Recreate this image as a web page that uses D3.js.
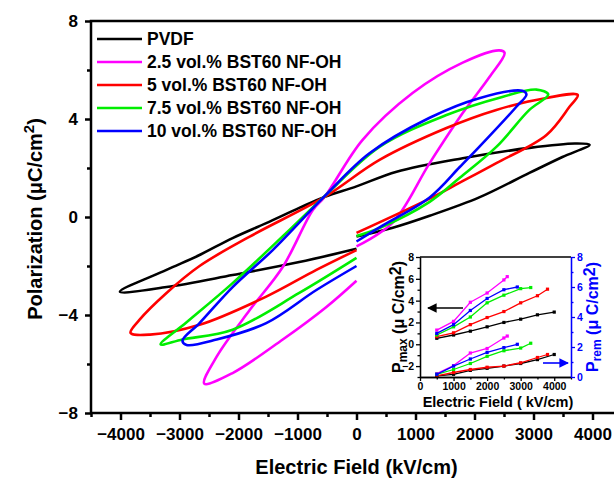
<!DOCTYPE html>
<html>
<head>
<meta charset="utf-8">
<script src="https://cdn.jsdelivr.net/npm/d3@7"></script>
<style>
    body { margin: 0; background: #fff; }
    svg { font-family: Arial, "Liberation Sans", sans-serif; font-weight: bold; }
</style>
</head>
<body>
<div id="chart"></div>
<script>
// hysteresis loops, [E (kV/cm), P (uC/cm2)]
const loopPVDF = [[0,-0.8],[600,-0.45],[1240,0.05],[2080,0.8],[2930,1.8],[3490,2.45],[3950,2.95],[3700,3.0],[2930,2.82],[1800,2.4],[680,1.85],[0,1.25],[-540,0.82],[-970,0.37],[-1530,-0.25],[-2100,-0.86],[-2660,-1.55],[-3220,-2.16],[-4010,-3.05],[-3220,-2.86],[-2100,-2.37],[-970,-1.84],[0,-1.3]];
const loop25 = [[0,-1.2],[610,-0.24],[1240,2.2],[1800,4.24],[2250,5.7],[2510,6.7],[2420,6.8],[1800,6.3],[950,5.06],[100,3.14],[-540,0.82],[-740,0.29],[-1250,-2.04],[-1810,-3.8],[-2370,-5.7],[-2580,-6.8],[-2100,-6.37],[-1250,-5.0],[-510,-3.67],[0,-2.6]];
const loop5 = [[0,-0.65],[1240,0.75],[1750,1.4],[2370,2.2],[3220,3.35],[3610,4.5],[3750,4.98],[3220,4.86],[2370,4.37],[1525,3.63],[390,2.33],[-540,0.82],[-1810,-0.8],[-2660,-2.0],[-3220,-3.1],[-3680,-4.2],[-3830,-4.73],[-3500,-4.8],[-2660,-4.4],[-1530,-3.25],[-680,-2.16],[0,-1.35]];
const loop75 = [[0,-0.78],[390,-0.45],[1240,0.62],[1750,1.6],[2370,2.86],[2930,4.37],[3250,5.0],[3050,5.2],[2470,4.9],[1525,4.16],[390,2.86],[-540,0.85],[-1190,-0.65],[-2100,-2.7],[-2880,-4.3],[-3320,-5.2],[-2950,-5.0],[-2100,-4.6],[-970,-3.1],[0,-1.67]];
const loop10 = [[0,-1.0],[440,-0.35],[1240,0.8],[1750,2.04],[2080,2.86],[2710,4.5],[2880,5.0],[2810,5.15],[2080,4.85],[1240,4.05],[220,2.6],[-540,0.85],[-1420,-1.35],[-2100,-2.86],[-2660,-4.33],[-2950,-5.05],[-2880,-5.22],[-2370,-5.0],[-1530,-4.33],[-680,-2.98],[0,-2.0]];

const seriesNames = ["PVDF", "2.5 vol.% BST60 NF-OH", "5 vol.% BST60 NF-OH", "7.5 vol.% BST60 NF-OH", "10 vol.% BST60 NF-OH"];
const seriesColors = ["#000000", "#ff00ff", "#ff0000", "#00ee00", "#0000ff"];
const loops = [loopPVDF, loop25, loop5, loop75, loop10];

const xTicks = [-4000, -3000, -2000, -1000, 0, 1000, 2000, 3000, 4000];
const yTicks = [-8, -4, 0, 4, 8];

// inset: Pmax (left axis) and Prem (right axis) vs field
const fieldPVDF = [500,1000,1500,2000,2500,3000,3500,4000];
const pmaxPVDF = [0.55,0.85,1.2,1.6,2.0,2.3,2.7,2.95];
const premPVDF = [0.07,0.18,0.44,0.58,0.73,0.9,1.16,1.5];
const field25 = [500,1000,1500,2000,2500,2600];
const pmax25 = [1.3,2.1,3.85,4.7,5.9,6.2];
const prem25 = [0.22,0.76,1.6,1.9,2.6,2.73];
const field5 = [500,1000,1500,2000,2500,3000,3500,3800];
const pmax5 = [0.7,1.05,1.8,2.45,3.0,3.8,4.45,5.05];
const prem5 = [0.07,0.3,0.5,0.65,0.73,0.95,1.3,1.5];
const field75 = [500,1000,1500,2000,2500,3000,3300];
const pmax75 = [0.85,1.6,2.5,3.8,4.5,5.1,5.2];
const prem75 = [0.18,0.5,0.9,1.38,1.75,1.93,2.25];
const field10 = [500,1000,1500,2000,2500,2900];
const pmax10 = [1.0,1.8,3.1,4.2,5.0,5.25];
const prem10 = [0.18,0.73,1.2,1.64,1.96,2.18];

const insetFields = [fieldPVDF, field25, field5, field75, field10];
const insetPmax = [pmaxPVDF, pmax25, pmax5, pmax75, pmax10];
const insetPrem = [premPVDF, prem25, prem5, prem75, prem10];
const insetXTicks = [0, 1000, 2000, 3000, 4000];
const insetLeftTicks = [-2, 0, 2, 4, 6, 8];
const insetRightTicks = [0, 2, 4, 6, 8];

const width = 614, height = 479;
const svg = d3.select("#chart").append("svg")
    .attr("width", width)
    .attr("height", height);

const m = {left: 91, top: 21, right: 622, bottom: 413};
const x = d3.scaleLinear().domain([-4500, 4500]).range([m.left, m.right]);
const y = d3.scaleLinear().domain([-8, 8]).range([m.bottom, m.top]);
const fmt = d3.format("d");

// loops
const line = d3.line()
    .x(d => x(d[0]))
    .y(d => y(d[1]))
    .curve(d3.curveCatmullRom.alpha(0.5));

svg.append("g")
    .selectAll("path")
    .data(loops)
    .join("path")
    .attr("d", d => line(d))
    .attr("fill", "none")
    .attr("stroke", (d, i) => seriesColors[i])
    .attr("stroke-width", 2.6)
    .attr("stroke-linejoin", "round");

// frame
svg.append("rect")
    .attr("x", m.left).attr("y", m.top)
    .attr("width", m.right - m.left).attr("height", m.bottom - m.top)
    .attr("fill", "none").attr("stroke", "#000").attr("stroke-width", 2.5);

// main axes
const xAxis = svg.append("g")
    .attr("transform", `translate(0,${m.bottom})`)
    .call(d3.axisBottom(x).tickValues(xTicks).tickFormat(fmt).tickSize(7).tickSizeOuter(0).tickPadding(8));
const xMinor = svg.append("g")
    .attr("transform", `translate(0,${m.bottom})`)
    .call(d3.axisBottom(x).tickValues(d3.range(-4500, 4501, 1000)).tickSize(4).tickFormat(""));
const yAxis = svg.append("g")
    .attr("transform", `translate(${m.left},0)`)
    .call(d3.axisLeft(y).tickValues(yTicks).tickFormat(fmt).tickSize(6).tickSizeOuter(0).tickPadding(7));
const yMinor = svg.append("g")
    .attr("transform", `translate(${m.left},0)`)
    .call(d3.axisLeft(y).tickValues([-6, -2, 2, 6]).tickSize(4).tickFormat(""));

[xAxis, xMinor, yAxis, yMinor].forEach(g => {
    g.select(".domain").remove();
    g.selectAll(".tick line").attr("stroke-width", 2.5);
    g.selectAll("text")
        .attr("font-family", "Arial, 'Liberation Sans', sans-serif")
        .attr("font-weight", "bold")
        .attr("font-size", 17)
        .attr("fill", "#000");
});

svg.append("text")
    .attr("x", x(0)).attr("y", 474)
    .attr("text-anchor", "middle")
    .attr("font-size", 20)
    .text("Electric Field (kV/cm)");

const yl = svg.append("text")
    .attr("transform", `translate(42,219) rotate(-90)`)
    .attr("text-anchor", "middle")
    .attr("font-size", 20);
yl.append("tspan").text("Polarization (\u03bcC/cm");
yl.append("tspan").attr("font-size", 15).attr("dy", -8).text("2");
yl.append("tspan").attr("dy", 8).text(")");

// legend
const legendY = [39, 62, 85, 108, 131];
const legend = svg.append("g");
seriesNames.forEach((name, i) => {
    legend.append("line")
        .attr("x1", 97).attr("x2", 142)
        .attr("y1", legendY[i]).attr("y2", legendY[i])
        .attr("stroke", seriesColors[i]).attr("stroke-width", 2.6);
    legend.append("text")
        .attr("x", 147).attr("y", legendY[i])
        .attr("dy", "0.36em")
        .attr("font-size", 17.5)
        .text(name);
});

// inset
const im = {left: 420, right: 571, top: 257, bottom: 377};
const ix = d3.scaleLinear().domain([0, 4500]).range([im.left, im.right]);
const iyL = d3.scaleLinear().domain([-3, 8]).range([im.bottom, im.top]);
const iyR = d3.scaleLinear().domain([0, 8]).range([im.bottom, im.top]);

const inset = svg.append("g");
inset.append("rect")
    .attr("x", im.left).attr("y", im.top)
    .attr("width", im.right - im.left).attr("height", im.bottom - im.top)
    .attr("fill", "#fff");

const pmaxLine = d3.line().x(d => ix(d[0])).y(d => iyL(d[1]));
const premLine = d3.line().x(d => ix(d[0])).y(d => iyR(d[1]));

seriesNames.forEach((name, i) => {
    const a = insetFields[i].map((f, k) => [f, insetPmax[i][k]]);
    const b = insetFields[i].map((f, k) => [f, insetPrem[i][k]]);
    [[a, pmaxLine], [b, premLine]].forEach(([pts, gen]) => {
        inset.append("path")
            .attr("d", gen(pts))
            .attr("fill", "none")
            .attr("stroke", seriesColors[i])
            .attr("stroke-width", 1.3);
        inset.selectAll(null)
            .data(pts)
            .join("rect")
            .attr("x", d => gen.x()(d) - 1.6)
            .attr("y", d => gen.y()(d) - 1.6)
            .attr("width", 3.2).attr("height", 3.2)
            .attr("fill", seriesColors[i]);
    });
});

// inset axes
inset.append("line")
    .attr("x1", im.left).attr("x2", im.right)
    .attr("y1", im.top).attr("y2", im.top)
    .attr("stroke", "#000").attr("stroke-width", 1.3);

const ixAxis = inset.append("g")
    .attr("transform", `translate(0,${im.bottom})`)
    .call(d3.axisBottom(ix).tickValues(insetXTicks).tickFormat(fmt).tickSize(4).tickSizeOuter(0).tickPadding(2));
const ixMinor = inset.append("g")
    .attr("transform", `translate(0,${im.bottom})`)
    .call(d3.axisBottom(ix).tickValues([500, 1500, 2500, 3500, 4500]).tickSize(2.5).tickSizeOuter(0).tickFormat(""));
const iyAxis = inset.append("g")
    .attr("transform", `translate(${im.left},0)`)
    .call(d3.axisLeft(iyL).tickValues(insetLeftTicks).tickFormat(fmt).tickSize(4).tickSizeOuter(0).tickPadding(2));
const iyMinor = inset.append("g")
    .attr("transform", `translate(${im.left},0)`)
    .call(d3.axisLeft(iyL).tickValues([-3, -1, 1, 3, 5, 7]).tickSize(2.5).tickSizeOuter(0).tickFormat(""));
const irAxis = inset.append("g")
    .attr("transform", `translate(${im.right},0)`)
    .call(d3.axisRight(iyR).tickValues(insetRightTicks).tickFormat(fmt).tickSize(4).tickSizeOuter(0).tickPadding(2));
const irMinor = inset.append("g")
    .attr("transform", `translate(${im.right},0)`)
    .call(d3.axisRight(iyR).tickValues([1, 3, 5, 7]).tickSize(2.5).tickSizeOuter(0).tickFormat(""));

[ixAxis, ixMinor, iyAxis, iyMinor].forEach(g => {
    g.select(".domain").attr("stroke-width", 1.3);
    g.selectAll(".tick line").attr("stroke-width", 1.3);
    g.selectAll("text").attr("font-family", null).attr("font-size", 10.5).attr("fill", "#000");
});
[irAxis, irMinor].forEach(g => {
    g.select(".domain").attr("stroke", "#0000ff").attr("stroke-width", 1.3);
    g.selectAll(".tick line").attr("stroke", "#0000ff").attr("stroke-width", 1.3);
    g.selectAll("text").attr("font-family", null).attr("font-size", 10.5).attr("fill", "#0000ff");
});

inset.append("text")
    .attr("x", 498).attr("y", 407)
    .attr("text-anchor", "middle")
    .attr("font-size", 14.5)
    .text("Electric Field ( kV/cm)");

const il = inset.append("text")
    .attr("transform", `translate(404,${(im.top + im.bottom) / 2}) rotate(-90)`)
    .attr("text-anchor", "middle")
    .attr("font-size", 16);
il.append("tspan").text("P");
il.append("tspan").attr("font-size", 12).attr("dy", 3).text("max");
il.append("tspan").attr("dy", -3).text(" (\u03bc C/cm");
il.append("tspan").attr("dy", -3).text("2");
il.append("tspan").attr("dy", 3).text(")");

const ir = inset.append("text")
    .attr("transform", `translate(598,${(im.top + im.bottom) / 2}) rotate(-90)`)
    .attr("text-anchor", "middle")
    .attr("font-size", 16)
    .attr("fill", "#0000ff");
ir.append("tspan").text("P");
ir.append("tspan").attr("font-size", 12).attr("dy", 3).text("rem");
ir.append("tspan").attr("dy", -3).text(" (\u03bc C/cm");
ir.append("tspan").attr("dy", -3).text("2");
ir.append("tspan").attr("dy", 3).text(")");

// arrows
const defs = svg.append("defs");
[["arrowK", "#000"], ["arrowB", "#0000ff"]].forEach(([id, c]) => {
    defs.append("marker")
        .attr("id", id)
        .attr("viewBox", "0 0 10 10")
        .attr("refX", 9).attr("refY", 5)
        .attr("markerWidth", 6).attr("markerHeight", 6)
        .attr("orient", "auto")
        .append("path")
        .attr("d", "M0,0L10,5L0,10z")
        .attr("fill", c);
});
inset.append("line")
    .attr("x1", 463).attr("x2", 428)
    .attr("y1", 308).attr("y2", 308)
    .attr("stroke", "#000").attr("stroke-width", 1.6)
    .attr("marker-end", "url(#arrowK)");
inset.append("line")
    .attr("x1", 543).attr("x2", 568)
    .attr("y1", 363).attr("y2", 363)
    .attr("stroke", "#0000ff").attr("stroke-width", 1.6)
    .attr("marker-end", "url(#arrowB)");
</script>
</body>
</html>
